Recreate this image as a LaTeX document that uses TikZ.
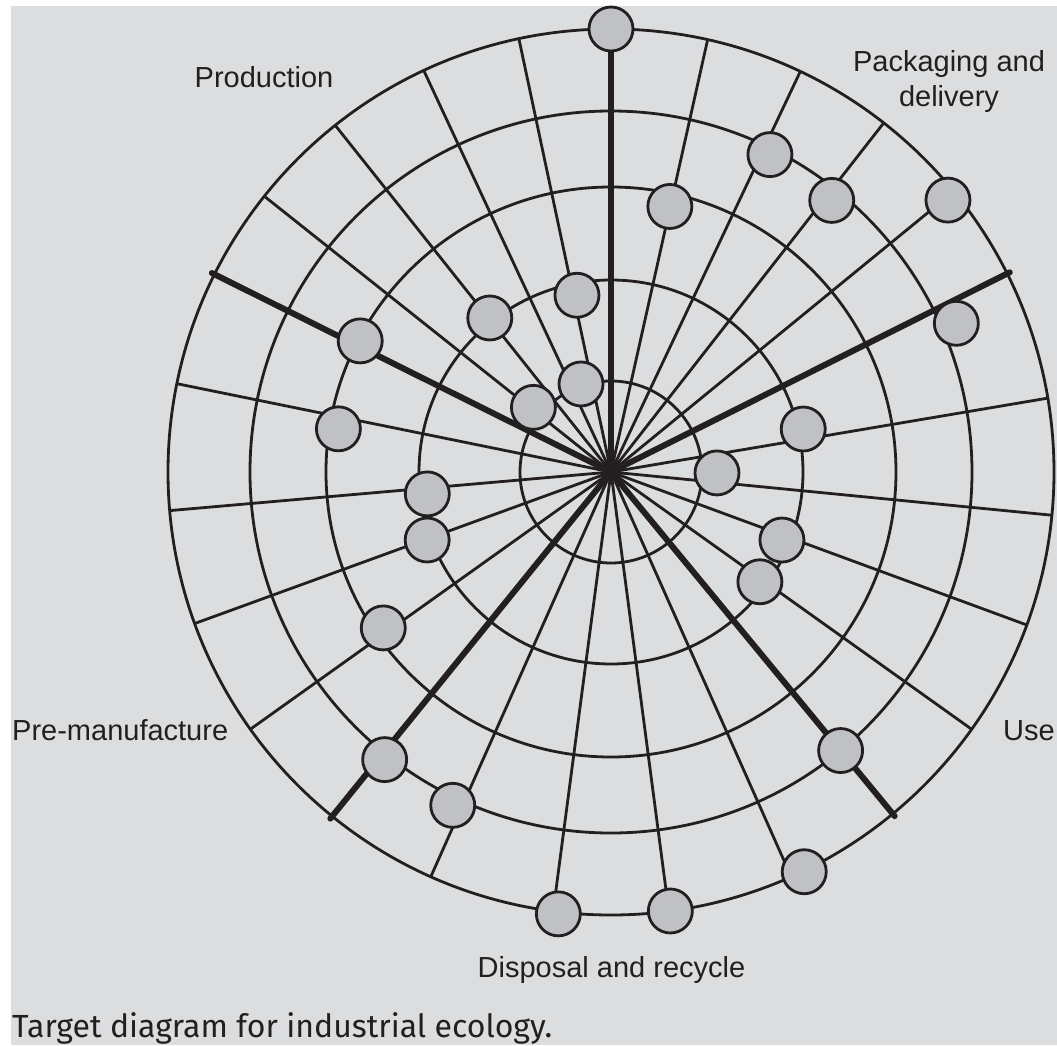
\documentclass[tikz,border=0pt]{standalone}
\usepackage{fontspec}
\setmainfont{Liberation Sans}
\newfontfamily\captionfont{Fira Sans}
\usepackage{tikz}
\definecolor{panelgray}{RGB}{220,221,223}
\definecolor{spotgray}{RGB}{192,193,197}
\definecolor{ink}{RGB}{35,31,32}
\tikzset{
  ring/.style={draw=ink,line width=2.8pt},
  spoke/.style={draw=ink,line width=2.8pt},
  mainspoke/.style={draw=ink,line width=6pt,line cap=round},
  spot/.style={circle,draw=ink,fill=spotgray,line width=2.8pt,minimum size=44pt,inner sep=0pt},
  stage/.style={font=\fontsize{29}{35}\selectfont,text=ink,inner sep=0pt}
}

\begin{document}
\begin{tikzpicture}[x=1pt,y=1pt]
    \fill [white] (-611,-573) rectangle (446,472);
    \fill [panelgray] (-600,-573) rectangle (446,466);
    \useasboundingbox (-611,-573) rectangle (446,472);

    \coordinate (c) at (0,0);

    % rings
    \draw [ring] (c) circle (91pt);
    \draw [ring] (c) circle (192pt);
    \draw [ring] (c) circle (285pt);
    \draw [ring] (c) circle (361pt);
    \draw [ring] (c) circle (443pt);

    % ends of the spokes
    \coordinate (e1) at (90:443);
    \coordinate (e2) at (102:443);
    \coordinate (e3) at (115:443);
    \coordinate (e4) at (128.5:443);
    \coordinate (e5) at (141.5:443);
    \coordinate (e6) at (153.5:446);
    \coordinate (e7) at (168.5:443);
    \coordinate (e8) at (185:443);
    \coordinate (e9) at (200:443);
    \coordinate (e10) at (215.5:443);
    \coordinate (e11) at (231:446);
    \coordinate (e12) at (246:443);
    \coordinate (e13) at (262.5:443);
    \coordinate (e14) at (277.5:443);
    \coordinate (e15) at (294:443);
    \coordinate (e16) at (309.5:446);
    \coordinate (e17) at (324.5:443);
    \coordinate (e18) at (339.8:443);
    \coordinate (e19) at (354.4:443);
    \coordinate (e20) at (9.6:443);
    \coordinate (e21) at (26.6:446);
    \coordinate (e22) at (39.3:443);
    \coordinate (e23) at (52:443);
    \coordinate (e24) at (64.7:443);
    \coordinate (e25) at (77.4:443);

    \path [draw,spoke] (c) edge (e2);
    \path [draw,spoke] (c) edge (e3);
    \path [draw,spoke] (c) edge (e4);
    \path [draw,spoke] (c) edge (e5);
    \path [draw,spoke] (c) edge (e7);
    \path [draw,spoke] (c) edge (e8);
    \path [draw,spoke] (c) edge (e9);
    \path [draw,spoke] (c) edge (e10);
    \path [draw,spoke] (c) edge (e12);
    \path [draw,spoke] (c) edge (e13);
    \path [draw,spoke] (c) edge (e14);
    \path [draw,spoke] (c) edge (e15);
    \path [draw,spoke] (c) edge (e17);
    \path [draw,spoke] (c) edge (e18);
    \path [draw,spoke] (c) edge (e19);
    \path [draw,spoke] (c) edge (e20);
    \path [draw,spoke] (c) edge (e22);
    \path [draw,spoke] (c) edge (e23);
    \path [draw,spoke] (c) edge (e24);
    \path [draw,spoke] (c) edge (e25);

    \path [draw,mainspoke] (c) edge (e1);
    \path [draw,mainspoke] (c) edge (e6);
    \path [draw,mainspoke] (c) edge (e11);
    \path [draw,mainspoke] (c) edge (e16);
    \path [draw,mainspoke] (c) edge (e21);

    % spots
    \node [spot] (top) at (90:443) {};
    \node [spot] (pack1) at (77.5:272) {};
    \node [spot] (pack2) at (63.4:355) {};
    \node [spot] (pack3) at (50.9:350) {};
    \node [spot] (pack4) at (38.9:433) {};
    \node [spot] (prod1) at (100.9:180) {};
    \node [spot] (prod2) at (108.8:93) {};
    \node [spot] (prod3) at (128.2:196) {};
    \node [spot] (prod4) at (140.2:101) {};
    \node [spot] (prod5) at (152.4:283) {};
    \node [spot] (pre1) at (171:276) {};
    \node [spot] (pre2) at (186.8:185) {};
    \node [spot] (pre3) at (200.3:196) {};
    \node [spot] (pre4) at (214.4:276) {};
    \node [spot] (pre5) at (231.8:366) {};
    \node [spot] (disp1) at (244.6:369) {};
    \node [spot] (disp2) at (263.2:445) {};
    \node [spot] (disp3) at (277.7:443) {};
    \node [spot] (disp4) at (295.8:444) {};
    \node [spot] (disp5) at (309.5:361) {};
    \node [spot] (use1) at (323.6:185) {};
    \node [spot] (use2) at (338.3:184) {};
    \node [spot] (use3) at (359.5:106) {};
    \node [spot] (use4) at (12.6:197) {};
    \node [spot] (use5) at (23.3:376) {};

    % stages
    \node [stage,anchor=base] (production) at (-347,384) {Production};
    \node [stage,align=center] (packaging) at (338,390) {Packaging and\\delivery};
    \node [stage,anchor=base west] (premanufacture) at (-599,-268) {Pre-manufacture};
    \node [stage,anchor=base east] (use) at (444,-268) {Use};
    \node [stage,anchor=base] (disposal) at (0.5,-505) {Disposal and recycle};

    \node [anchor=base west,inner sep=0pt,text=ink,font=\captionfont\fontsize{32}{38}\selectfont] (caption) at (-599,-565) {Target diagram for industrial ecology.};
\end{tikzpicture}
\end{document}
